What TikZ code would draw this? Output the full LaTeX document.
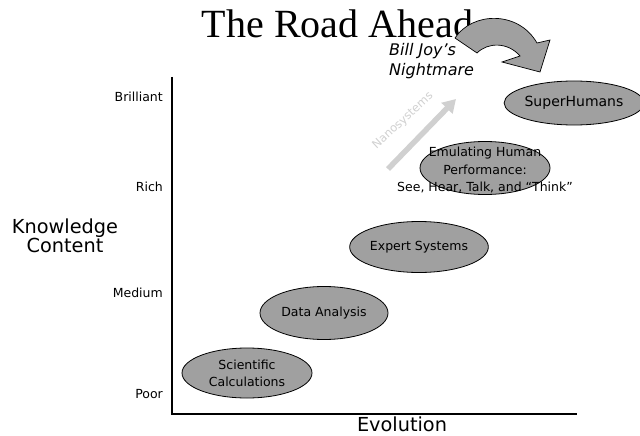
\documentclass[tikz,border=0pt]{standalone}
\usepackage{fontspec}
\setmainfont{Liberation Serif}
\newfontfamily\lblfont{DejaVu Sans}
\usetikzlibrary{shapes.geometric,arrows.meta}
\definecolor{ellgray}{RGB}{160,160,160}
\definecolor{nanogray}{RGB}{208,208,208}
\tikzset{
  stage/.style={ellipse,draw=black,line width=0.8pt,fill=ellgray,inner sep=0pt,
    font=\lblfont\fontsize{12.5}{17}\selectfont,align=center},
  lvl/.style={anchor=mid east,inner sep=0pt,font=\lblfont\fontsize{12.5}{14}\selectfont},
  axtitle/.style={font=\lblfont\fontsize{19.3}{20}\selectfont,align=center}
}
\begin{document}
\begin{tikzpicture}[x=1pt,y=-1pt]
\useasboundingbox (0,0) rectangle (640,436);
% title
\node[anchor=base,font=\fontsize{40}{44}\selectfont,inner sep=0pt] (title) at (337.5,38) {The Road Ahead};
% axes
\coordinate (ytop) at (172,77);
\coordinate (orig) at (172,414);
\coordinate (xend) at (577,414);
\draw[line width=2pt] (ytop) -- (orig) -- (xend);
% level labels
\node[lvl] (brill) at (163,99) {Brilliant};
\node[lvl] (rich) at (163,189) {Rich};
\node[lvl] (medium) at (163,295) {Medium};
\node[lvl] (poor) at (163,396) {Poor};
\node[axtitle] (know) at (65,236) {Knowledge\\[-0.5pt]Content};
\node[axtitle,anchor=base] (evol) at (402,431) {Evolution};
% stages
\node[stage,minimum width=130pt,minimum height=50pt] (sci) at (247,373) {Scientific\\Calculations};
\node[stage,minimum width=128pt,minimum height=53pt] (data) at (324,313) {Data Analysis};
\node[stage,minimum width=128pt,minimum height=51pt] (expert) at (419,247) {Expert Systems};
\node[stage,minimum width=130pt,minimum height=53pt] (emul) at (485,168) {};
\node[font=\lblfont\fontsize{12.5}{17.5}\selectfont,align=center] (emultxt) at (485,170) {Emulating Human\\Performance:\\See, Hear, Talk, and “Think”};
\node[stage,minimum width=128pt,minimum height=44pt,font=\lblfont\fontsize{14}{17}\selectfont] (super) at (574,103) {SuperHumans};
% nanosystems arrow
\coordinate (nanoA) at (388,169);
\coordinate (nanoB) at (456,99);
\draw[nanogray,line width=5.5pt,-{Triangle[width=15pt,length=13pt]}] (nanoA) -- (nanoB);
\node[nanogray,rotate=43,font=\lblfont\fontsize{11.5}{13}\selectfont,inner sep=0pt] (nano) at (403,121) {Nanosystems};
% Bill Joy
\node[font=\lblfont\itshape\fontsize{16}{20}\selectfont,align=left,anchor=north west,inner sep=0pt] (joy) at (389,43) {Bill Joy’s\\Nightmare};
% curved block arrow
\draw[fill=ellgray,draw=black,line width=0.7pt]
  (455,38) .. controls (472,12) and (518,10) .. (537,43)
  -- (550,40) -- (540,72) -- (502,62) -- (520,56)
  .. controls (508,42) and (488,42) .. (477,53) -- cycle;
\end{tikzpicture}
\end{document}
